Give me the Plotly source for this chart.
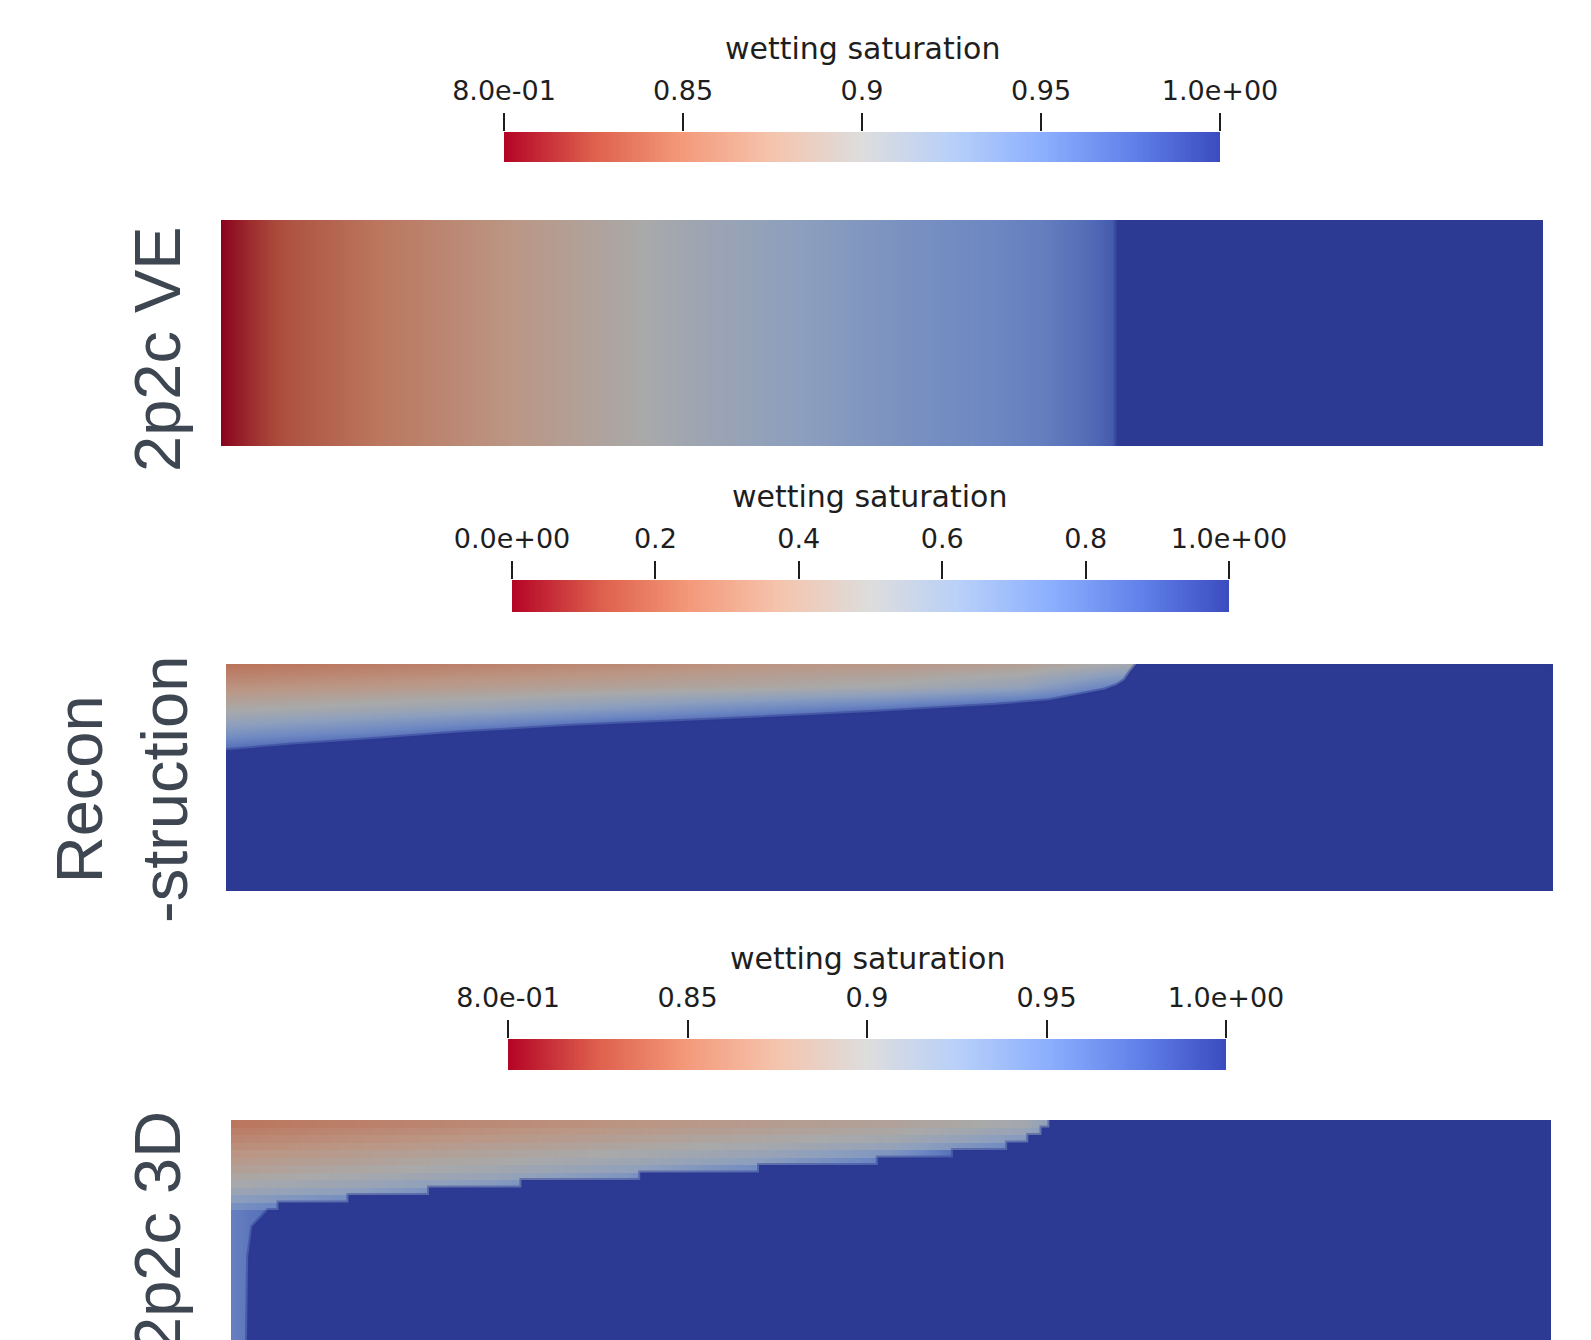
import numpy as np
import plotly.graph_objects as go

W, H = 1591, 1340

# ParaView "Cool to Warm" control colours (low value = red, high value = blue)
CW_POS = [0.0, 0.125, 0.25, 0.375, 0.5, 0.625, 0.75, 0.875, 1.0]
CW_RGB = [(180, 4, 38), (222, 96, 77), (244, 154, 123), (245, 196, 173), (221, 221, 221),
          (184, 208, 249), (141, 176, 254), (98, 130, 234), (59, 76, 192)]
SHADE = 0.765  # rendered (lit) surface is darker than the legend

# ---------------- Panel 1: 2p2c VE (saturation along x) ----------------
VE_X = [0.0, 0.023, 0.05, 0.084, 0.117, 0.158, 0.198, 0.238, 0.279, 0.319, 0.36, 0.41,
        0.466, 0.52, 0.574, 0.62, 0.654, 0.668, 0.674, 0.678, 1.0]
VE_SW = [0.80, 0.815, 0.83, 0.84, 0.85, 0.86, 0.87, 0.88, 0.89, 0.90, 0.91, 0.92,
         0.93, 0.94, 0.948, 0.956, 0.968, 0.976, 0.98, 1.0, 1.0]

# ---------------- Panel 2: Reconstruction ----------------
REC_X = [0.0, 0.1, 0.2, 0.3, 0.4, 0.5, 0.6, 0.7, 1.0]
REC_DEPTH = [0.0, 0.1, 0.2, 0.3, 0.4, 1.0]
REC_SW = [
    [0.24, 0.27, 0.30, 0.33, 0.37, 0.39, 0.43, 0.55, 1.0],
    [0.36, 0.39, 0.42, 0.45, 0.48, 0.52, 0.60, 0.85, 1.0],
    [0.49, 0.54, 0.59, 0.66, 0.74, 0.82, 0.92, 1.00, 1.0],
    [0.68, 0.75, 0.85, 0.95, 1.00, 1.00, 1.00, 1.00, 1.0],
    [0.90, 1.00, 1.00, 1.00, 1.00, 1.00, 1.00, 1.00, 1.0],
    [1.00, 1.00, 1.00, 1.00, 1.00, 1.00, 1.00, 1.00, 1.0],
]
# gas/brine interface (below it the saturation is 1)
REC_FRONT_X = [0.0, 0.05, 0.1, 0.18, 0.26, 0.36, 0.49, 0.58, 0.62, 0.648, 0.662,
               0.671, 0.677, 0.681, 0.684, 0.686]
REC_FRONT_DEPTH = [0.38, 0.355, 0.335, 0.30, 0.272, 0.247, 0.21, 0.18, 0.16, 0.128, 0.112,
                   0.093, 0.07, 0.035, 0.015, 0.0]

# ---------------- Panel 3: 2p2c 3D (layered) ----------------
D3_X = [0.0, 0.1, 0.2, 0.3, 0.4, 0.5, 0.6, 0.7]
D3_LAYER_EDGES = [0.0, 0.033, 0.066, 0.099, 0.132, 0.165, 0.198, 0.231, 0.264, 0.297, 0.330, 0.363, 0.396]
D3_LAYER_END_X = [0.62, 0.614, 0.604, 0.588, 0.547, 0.49, 0.40, 0.31, 0.22, 0.15, 0.089, 0.036]
D3_LAYER_SW = [
    [0.850, 0.858, 0.866, 0.874, 0.882, 0.890, 0.905, 1.0],
    [0.856, 0.864, 0.872, 0.880, 0.888, 0.897, 0.915, 1.0],
    [0.862, 0.870, 0.878, 0.887, 0.896, 0.906, 0.930, 1.0],
    [0.868, 0.876, 0.885, 0.894, 0.904, 0.918, 0.950, 1.0],
    [0.874, 0.883, 0.892, 0.902, 0.914, 0.935, 1.0, 1.0],
    [0.880, 0.889, 0.899, 0.910, 0.925, 0.955, 1.0, 1.0],
    [0.887, 0.896, 0.907, 0.920, 0.945, 1.0, 1.0, 1.0],
    [0.894, 0.904, 0.916, 0.935, 1.0, 1.0, 1.0, 1.0],
    [0.902, 0.913, 0.930, 0.960, 1.0, 1.0, 1.0, 1.0],
    [0.912, 0.925, 0.950, 1.0, 1.0, 1.0, 1.0, 1.0],
    [0.925, 0.945, 1.0, 1.0, 1.0, 1.0, 1.0, 1.0],
    [0.940, 0.970, 1.0, 1.0, 1.0, 1.0, 1.0, 1.0],
]
D3_STRIP_SW = [0.955, 1.0, 1.0, 1.0, 1.0, 1.0, 1.0, 1.0]
# edge of the light strip along the left boundary below the layers
D3_STRIP_EDGE_X = [0.028, 0.016, 0.013, 0.012]
D3_STRIP_EDGE_DEPTH = [0.396, 0.47, 0.6, 1.0]

# colour-bar definitions
CB1_RANGE = [0.8, 1.0]
CB1_TICKS = [0.8, 0.85, 0.9, 0.95, 1.0]
CB1_LABELS = ["8.0e-01", "0.85", "0.9", "0.95", "1.0e+00"]
CB2_RANGE = [0.0, 1.0]
CB2_TICKS = [0.0, 0.2, 0.4, 0.6, 0.8, 1.0]
CB2_LABELS = ["0.0e+00", "0.2", "0.4", "0.6", "0.8", "1.0e+00"]
CB_TITLE = "wetting saturation"
PANEL_LABELS = ["2p2c VE", "Recon<br>-struction", "2p2c 3D"]

# ---------------------------------------------------------------
BRIGHT = [[p, "rgb(%d,%d,%d)" % c] for p, c in zip(CW_POS, CW_RGB)]
DARK_RGB = [tuple(round(v * SHADE) for v in c) for c in CW_RGB]
DARK = [[p, "rgb(%d,%d,%d)" % c] for p, c in zip(CW_POS, DARK_RGB)]
DARK_TOP = DARK[-1][1]
DARK_EDGE = "rgba(%d,%d,%d,0.45)" % DARK_RGB[-1]


def px_dom_x(a, b):
    return [a / W, b / W]


def px_dom_y(top, bottom):
    return [max(0.0, 1 - bottom / H), 1 - top / H]


fig = go.Figure()

# panel 1
fig.add_trace(go.Heatmap(x=VE_X, y=[0.0, 1.0], z=[VE_SW, VE_SW], zmin=CB1_RANGE[0], zmax=CB1_RANGE[1],
                         colorscale=DARK, zsmooth="best", showscale=False, hoverinfo="skip",
                         xaxis="x", yaxis="y"))

# panel 2
fig.add_trace(go.Heatmap(x=REC_X, y=REC_DEPTH, z=REC_SW, zmin=CB2_RANGE[0], zmax=CB2_RANGE[1],
                         colorscale=DARK, zsmooth="best", showscale=False, hoverinfo="skip",
                         xaxis="x2", yaxis="y2"))
poly2_x = REC_FRONT_X + [REC_X[-1], REC_X[-1], REC_X[0]]
poly2_y = REC_FRONT_DEPTH + [REC_DEPTH[0], REC_DEPTH[-1], REC_DEPTH[-1]]
fig.add_trace(go.Scatter(x=poly2_x, y=poly2_y, fill="toself", fillcolor=DARK_TOP, mode="lines",
                         line=dict(width=4, color=DARK_EDGE), hoverinfo="skip", showlegend=False,
                         xaxis="x2", yaxis="y2"))

# panel 3 (layered; each layer as a flat band)
eps = 0.0015
d3_y, d3_z = [], []
for i, row in enumerate(D3_LAYER_SW):
    d3_y += [D3_LAYER_EDGES[i] + eps, D3_LAYER_EDGES[i + 1] - eps]
    d3_z += [row, row]
d3_y += [D3_LAYER_EDGES[-1] + eps, D3_STRIP_EDGE_DEPTH[-1]]
d3_z += [D3_STRIP_SW, D3_STRIP_SW]
fig.add_trace(go.Heatmap(x=D3_X, y=d3_y, z=d3_z, zmin=CB1_RANGE[0], zmax=CB1_RANGE[1],
                         colorscale=DARK, zsmooth="best", showscale=False, hoverinfo="skip",
                         xaxis="x3", yaxis="y3"))
poly3_x, poly3_y = [], []
for i, ex in enumerate(D3_LAYER_END_X):
    poly3_x += [ex, ex]
    poly3_y += [D3_LAYER_EDGES[i], D3_LAYER_EDGES[i + 1]]
poly3_x += D3_STRIP_EDGE_X + [1.0, 1.0]
poly3_y += D3_STRIP_EDGE_DEPTH + [D3_STRIP_EDGE_DEPTH[-1], 0.0]
fig.add_trace(go.Scatter(x=poly3_x, y=poly3_y, fill="toself", fillcolor=DARK_TOP, mode="lines",
                         line=dict(width=4, color=DARK_EDGE), hoverinfo="skip", showlegend=False,
                         xaxis="x3", yaxis="y3"))

# colour bars (legend gradients)
for k, rng in zip([4, 5, 6], [CB1_RANGE, CB2_RANGE, CB1_RANGE]):
    grad = np.linspace(rng[0], rng[1], 300)
    fig.add_trace(go.Heatmap(x=grad, y=[0], z=[grad], zmin=rng[0], zmax=rng[1], colorscale=BRIGHT,
                             showscale=False, hoverinfo="skip", xaxis="x%d" % k, yaxis="y%d" % k))

hidden = dict(visible=False, showgrid=False, zeroline=False, fixedrange=True, automargin=False)
TICK_FONT = dict(family="DejaVu Sans, Liberation Sans, sans-serif", size=27, color="#1e1e1e")


def cb_axis(dom, rng, ticks, labels, anchor):
    return dict(domain=dom, range=rng, side="top", anchor=anchor, tickmode="array", tickvals=ticks,
                ticktext=labels, ticks="outside", ticklen=18, tickwidth=2, tickcolor="#1e1e1e",
                tickfont=TICK_FONT, showgrid=False, zeroline=False, showline=False,
                ticklabelstandoff=2, fixedrange=True, automargin=False)


fig.update_layout(
    width=W, height=H, autosize=False,
    margin=dict(l=0, r=0, t=0, b=0, pad=0, autoexpand=False),
    paper_bgcolor="white", plot_bgcolor="white", showlegend=False,
    xaxis=dict(domain=px_dom_x(221, 1543), range=[0, 1], anchor="y", **hidden),
    yaxis=dict(domain=px_dom_y(220, 446), range=[1, 0], anchor="x", **hidden),
    xaxis2=dict(domain=px_dom_x(226, 1553), range=[0, 1], anchor="y2", **hidden),
    yaxis2=dict(domain=px_dom_y(664, 891), range=[1, 0], anchor="x2", **hidden),
    xaxis3=dict(domain=px_dom_x(231, 1551), range=[0, 1], anchor="y3", **hidden),
    yaxis3=dict(domain=px_dom_y(1120, 1340), range=[(1340 - 1120) / 227, 0], anchor="x3", **hidden),
    xaxis4=cb_axis(px_dom_x(504, 1220), CB1_RANGE, CB1_TICKS, CB1_LABELS, "y4"),
    yaxis4=dict(domain=px_dom_y(132, 162), range=[-0.5, 0.5], anchor="x4", **hidden),
    xaxis5=cb_axis(px_dom_x(512, 1229), CB2_RANGE, CB2_TICKS, CB2_LABELS, "y5"),
    yaxis5=dict(domain=px_dom_y(580, 612), range=[-0.5, 0.5], anchor="x5", **hidden),
    xaxis6=cb_axis(px_dom_x(508, 1226), CB1_RANGE, CB1_TICKS, CB1_LABELS, "y6"),
    yaxis6=dict(domain=px_dom_y(1039, 1070), range=[-0.5, 0.5], anchor="x6", **hidden),
)

TITLE_FONT = dict(family="DejaVu Sans, Liberation Sans, sans-serif", size=30, color="#1e1e1e")
for cx, cy in [(862, 49), (870, 497), (867, 958)]:
    fig.add_annotation(text=CB_TITLE, xref="paper", yref="paper", x=cx / W, y=1 - cy / H,
                       xanchor="center", yanchor="middle", showarrow=False, font=TITLE_FONT)

LABEL_FONT = dict(family="Liberation Sans, Arial, sans-serif", size=65, color="#3d4651")
for text, (cx, cy) in zip(PANEL_LABELS, [(157, 349), (122, 790), (157, 1232)]):
    fig.add_annotation(text=text, xref="paper", yref="paper", x=cx / W, y=1 - cy / H,
                       xanchor="center", yanchor="middle", showarrow=False, textangle=-90,
                       font=LABEL_FONT, align="center")

fig.write_html("out.html")
